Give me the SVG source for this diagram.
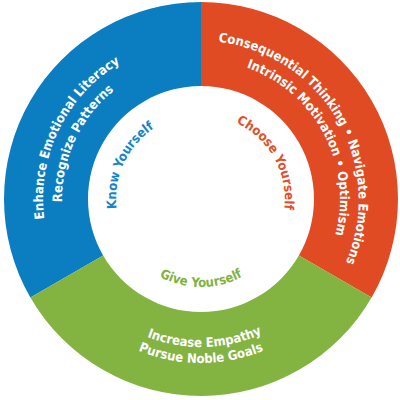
<svg xmlns="http://www.w3.org/2000/svg" xmlns:xlink="http://www.w3.org/1999/xlink" width="400" height="400" viewBox="0 0 400 400">
<style>
.t{font-family:"DejaVu Sans Condensed","DejaVu Sans",Verdana,sans-serif;font-weight:bold;font-size:13px;text-anchor:middle}
.w{fill:#ffffff}
.lb{font-size:13px}
</style>
<defs>
<path id="pBlueOut" d="M 131.73 341.01 A 158 158 0 0 1 270.27 56.99"/>
<path id="pBlueIn" d="M 142.26 324.98 A 139 139 0 0 1 259.74 73.02"/>
<path id="pOrOut" d="M 121.5 61.31 A 159 159 0 0 1 280.5 336.69"/>
<path id="pOrIn" d="M 135.74 76.27 A 139 139 0 0 1 266.26 321.73"/>
<path id="pKnow" d="M 165.08 276.04 A 85 85 0 0 1 236.92 121.96"/>
<path id="pChoose" d="M 160.28 125.53 A 84 84 0 0 1 241.72 272.47"/>
<path id="pGrIn" d="M 53.05 202.87 A 148 148 0 0 0 348.95 195.13"/>
<path id="pGrOut" d="M 37 199 A 164 164 0 0 0 365 199"/>
<path id="pGive" d="M 113 199 A 88 88 0 0 0 289 199"/>
</defs>
<rect width="400" height="400" fill="#ffffff"/>
<g id="know-yourself">
<path d="M 30.4 297.5 A 197 197 0 0 1 201 2 L 201 86 A 113 113 0 0 0 103.14 255.5 Z" fill="#0b7dc1"/>
<text class="t w"><textPath href="#pBlueOut" xlink:href="#pBlueOut" startOffset="50%">Enhance Emotional Literacy</textPath></text>
<text class="t w"><textPath href="#pBlueIn" xlink:href="#pBlueIn" startOffset="50%">Recognize Patterns</textPath></text>
<text class="t lb" fill="#1585cb"><textPath href="#pKnow" xlink:href="#pKnow" startOffset="50%">Know Yourself</textPath></text>
</g>
<g id="choose-yourself">
<path d="M 201 2 A 197 197 0 0 1 371.6 297.5 L 298.86 255.5 A 113 113 0 0 0 201 86 Z" fill="#e04b24"/>
<text class="t w"><textPath href="#pOrOut" xlink:href="#pOrOut" startOffset="50%">Consequential Thinking • Navigate Emotions</textPath></text>
<text class="t w"><textPath href="#pOrIn" xlink:href="#pOrIn" startOffset="50%">Intrinsic Motivation • Optimism</textPath></text>
<text class="t lb" fill="#e24f2a"><textPath href="#pChoose" xlink:href="#pChoose" startOffset="50%">Choose Yourself</textPath></text>
</g>
<g id="give-yourself">
<path d="M 371.6 297.5 A 197 197 0 0 1 30.4 297.5 L 103.14 255.5 A 113 113 0 0 0 298.86 255.5 Z" fill="#83b341"/>
<text class="t w"><textPath href="#pGrIn" xlink:href="#pGrIn" startOffset="50%">Increase Empathy</textPath></text>
<text class="t w"><textPath href="#pGrOut" xlink:href="#pGrOut" startOffset="50%">Pursue Noble Goals</textPath></text>
<text class="t lb" fill="#7fb23e"><textPath href="#pGive" xlink:href="#pGive" startOffset="50%">Give Yourself</textPath></text>
</g>
<g id="connectors"></g>
</svg>
